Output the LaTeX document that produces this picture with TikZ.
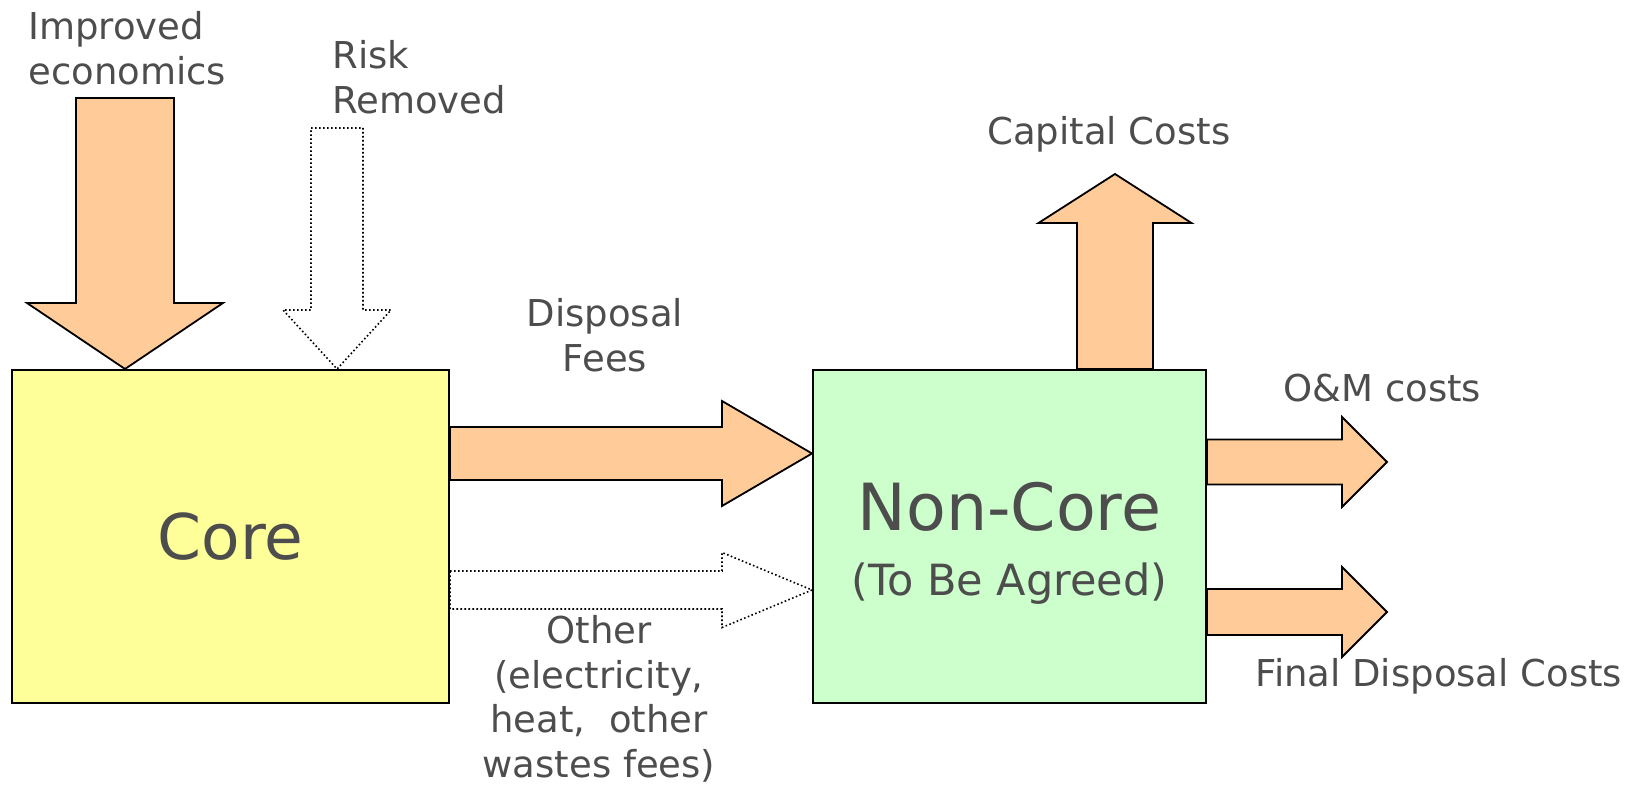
\documentclass[tikz,border=0pt]{standalone}
\usepackage{fontspec}
\setmainfont{DejaVu Sans}
\usetikzlibrary{calc,positioning}
\definecolor{peach}{HTML}{FFCC99}
\definecolor{coreyellow}{HTML}{FFFF99}
\definecolor{noncoregreen}{HTML}{CCFFCC}
\definecolor{textgray}{HTML}{4D4D4D}
% block arrow: [style]{from}{to}{half shaft}{half head}{head length}
\newcommand{\fatarrow}[6][fat]{%
  \path ($(#3)!#6!(#2)$) coordinate (hb);
  \draw[#1] ($(#2)!#4!90:(#3)$) -- ($(hb)!#4!-90:(#2)$) -- ($(hb)!#5!-90:(#2)$) -- (#3)
    -- ($(hb)!#5!90:(#2)$) -- ($(hb)!#4!90:(#2)$) -- ($(#2)!#4!-90:(#3)$) -- cycle;}
\begin{document}
\begin{tikzpicture}[x=0.5pt, y=-0.5pt,
    box/.style = {draw, line width=1pt, minimum height=166.5pt, inner sep=0pt},
    fat/.style = {draw, fill=peach, line width=0.9pt},
    ghost/.style = {draw, fill=white, line width=0.8pt, dash pattern=on 0.8pt off 1.2pt},
    lbl/.style = {text=textgray, inner sep=0pt, font=\fontsize{18.5}{22.25}\selectfont},
    big/.style = {text=textgray, inner sep=0pt, font=\fontsize{31.5}{36}\selectfont}]
\useasboundingbox (0,0) rectangle (1640,785);
% boxes
\node[box, fill=coreyellow, minimum width=218.5pt] (core) at (230.5,536.5) {};
\node[box, fill=noncoregreen, minimum width=196.5pt] (noncore) at (1009.5,536.5) {};
\node[big] (core name) at (core) {Core};
\node[big, font=\fontsize{32.5}{36}\selectfont, anchor=base] (noncore name) at (1009.5,531) {Non-Core};
\node[lbl, font=\fontsize{21.5}{26}\selectfont, anchor=base] (noncore note) at (1009.5,596) {(To Be Agreed)};
% free ends
\coordinate (econ top) at (125,98);
\coordinate (risk top) at (337,128);
\coordinate (capital tip) at (1115,174);
\coordinate (om tip) at (1387,462);
\coordinate (final tip) at (1387,612);
% arrows
\fatarrow{econ top}{econ top |- core.north}{24.5pt}{49pt}{33pt}
\fatarrow[ghost]{risk top}{risk top |- core.north}{13pt}{27pt}{29.5pt}
\fatarrow{core.east |- 0,453.5}{noncore.west |- 0,453.5}{13.25pt}{26.25pt}{45pt}
\fatarrow[ghost]{core.east |- 0,590}{noncore.west |- 0,590}{9.5pt}{18.75pt}{45pt}
\fatarrow{capital tip |- noncore.north}{capital tip}{19pt}{38.25pt}{24.5pt}
\fatarrow{noncore.east |- om tip}{om tip}{11.25pt}{22.5pt}{22.5pt}
\fatarrow{noncore.east |- final tip}{final tip}{11.5pt}{22.5pt}{22.5pt}
% labels
\node[lbl, anchor=north west, align=left] (econ label) at (28,11) {Improved\\economics};
\node[lbl, anchor=north west, align=left] (risk label) at (332,40) {Risk\\Removed};
\node[lbl, anchor=base west] (capital label) at (987,145) {Capital Costs};
\node[lbl, anchor=north, align=center] (fees label) at (605,298) {Disposal\\Fees};
\node[lbl, anchor=north, align=center] (other label) at (599,615) {Other\\(electricity,\\heat,~ other\\wastes fees)};
\node[lbl, anchor=base west] (om label) at (1283,402) {O\&M costs};
\node[lbl, anchor=base west] (final label) at (1255,687) {Final Disposal Costs};
\end{tikzpicture}
\end{document}
